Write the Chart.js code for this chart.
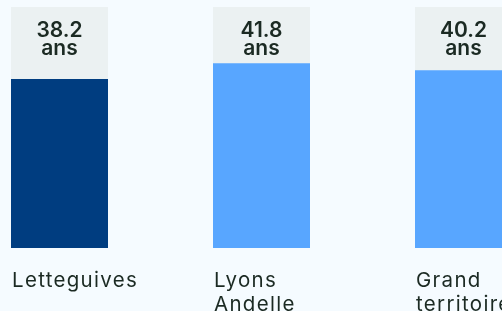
<!DOCTYPE html>
<html lang="fr">
<head>
<meta charset="utf-8">
<title>Âge moyen</title>
<script src="https://cdn.jsdelivr.net/npm/chart.js@4/dist/chart.umd.min.js"></script>
<style>
    html, body {
        margin: 0;
        padding: 0;
        width: 502px;
        height: 311px;
        overflow: hidden;
        background: #f5fbff;
    }
    #ageChart {
        position: absolute;
        left: -42px;
        top: 0;
    }
</style>
</head>
<body>
<canvas id="ageChart" width="607" height="330"></canvas>
<script>
// Data
const categories = ['Letteguives', 'Lyons Andelle', 'Grand territoire'];
const ages = [38.2, 41.8, 40.2];
const Y_MAX = 54.5;

const TEXT_COLOR = '#1b2a23';
const BAR_COLORS = ['#003d80', '#58a6ff', '#58a6ff'];
const BOX_COLOR = '#ebf1f2';

// Slightly wider letters for the category names
const tickSpacing = {
    id: 'tickSpacing',
    beforeDraw(chart) {
        chart.ctx.letterSpacing = '1.3px';
    }
};

// Draws "38.2 / ans" in the grey box above each bar
const valueLabels = {
    id: 'valueLabels',
    afterDatasetsDraw(chart) {
        const ctx = chart.ctx;
        const top = chart.chartArea.top;
        const meta = chart.getDatasetMeta(0);
        ctx.save();
        ctx.letterSpacing = '0px';
        ctx.fillStyle = TEXT_COLOR;
        ctx.font = '600 21px Inter';
        ctx.textAlign = 'center';
        ctx.textBaseline = 'alphabetic';
        meta.data.forEach((bar, i) => {
            ctx.fillText(ages[i].toFixed(1), bar.x, top + 30.3);
            ctx.fillText('ans', bar.x, top + 48);
        });
        ctx.restore();
    }
};

new Chart(document.getElementById('ageChart'), {
    type: 'bar',
    data: {
        labels: categories.map(c => c.split(' ')),
        datasets: [
            {
                data: ages,
                backgroundColor: BAR_COLORS,
                grouped: false,
                order: 0,
                barPercentage: 97 / 202,
                categoryPercentage: 1
            },
            {
                data: categories.map(() => Y_MAX),
                backgroundColor: BOX_COLOR,
                grouped: false,
                order: 1,
                barPercentage: 97 / 202,
                categoryPercentage: 1
            }
        ]
    },
    options: {
        responsive: false,
        animation: false,
        layout: {
            padding: { top: 7, left: 0.5, right: 0.5, bottom: 0 }
        },
        plugins: {
            legend: { display: false },
            tooltip: { enabled: false }
        },
        scales: {
            y: {
                display: false,
                min: 0,
                max: Y_MAX
            },
            x: {
                grid: { display: false, drawTicks: false },
                border: { display: false },
                afterFit: (scale) => {
                    scale.height = 82;
                    scale.paddingLeft = 0;
                    scale.paddingRight = 0;
                },
                ticks: {
                    align: 'start',
                    labelOffset: -47.5,
                    padding: 21,
                    color: TEXT_COLOR,
                    maxRotation: 0,
                    autoSkip: false,
                    font: {
                        family: 'Inter',
                        size: 20.5,
                        weight: 400,
                        lineHeight: 1.17
                    }
                }
            }
        }
    },
    plugins: [tickSpacing, valueLabels]
});
</script>
</body>
</html>
